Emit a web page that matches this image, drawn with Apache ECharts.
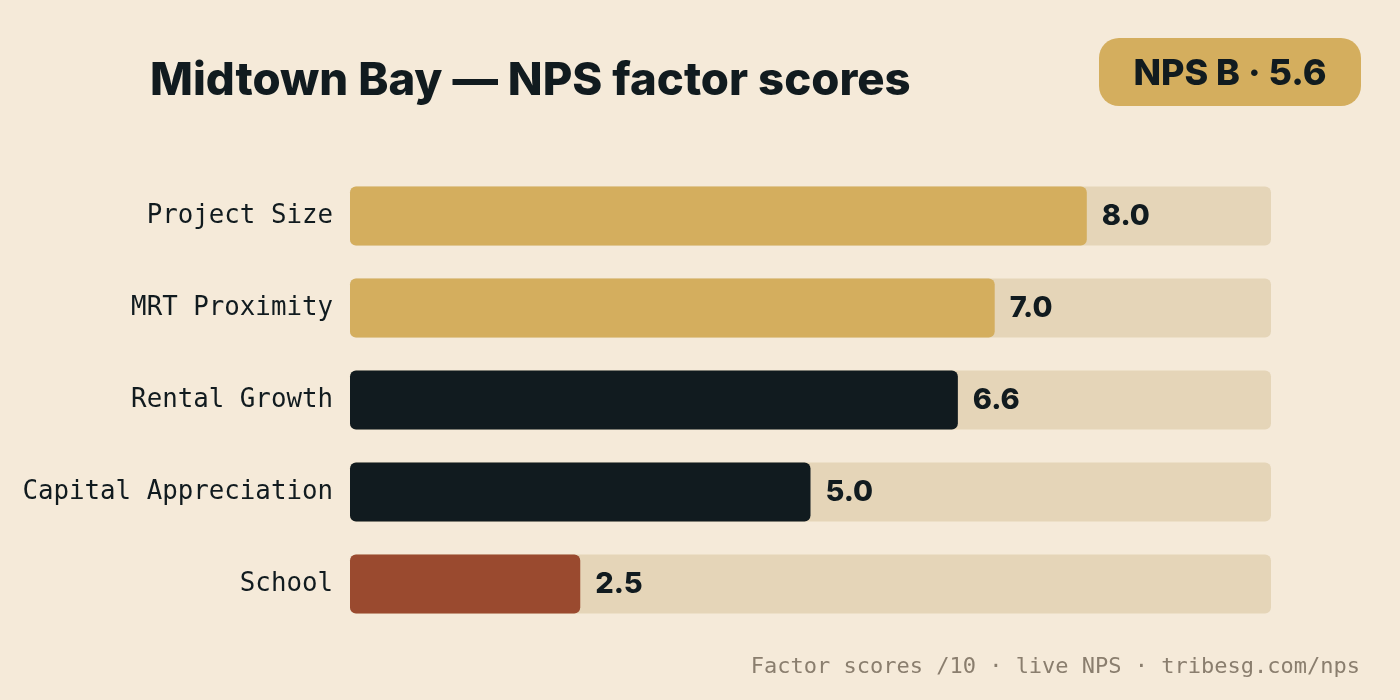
<!DOCTYPE html>
<html lang="en">
<head>
    <meta charset="UTF-8">
    <title>Midtown Bay NPS</title>
    <style>
        body {
            padding: 0;
            margin: 0;
            background-color: #f5ead9;
            overflow: hidden;
        }
        #main_chart {
            width: 1400px;
            height: 700px;
        }
    </style>
</head>
<body>
<div id="main_chart"></div>
<script type="text/javascript" src="https://cdn.jsdelivr.net/npm/echarts@6/dist/echarts.min.js"></script>
<script type="text/javascript">
var factors = ['Project Size', 'MRT Proximity', 'Rental Growth', 'Capital Appreciation', 'School'];
var scores = [8.0, 7.0, 6.6, 5.0, 2.5];
var maxScore = 10;
var npsBadge = 'NPS B \u00b7 5.6';

var barColor = function(v) {
    if (v >= 7) return '#d4ae5e';
    if (v >= 5) return '#111b1f';
    return '#9a4a2f';
};

var dom = document.getElementById('main_chart');
var chart = echarts.init(dom);

var option = {
    animation: false,
    backgroundColor: '#f5ead9',
    title: {
        text: 'Midtown Bay \u2014 NPS factor scores',
        left: 145,
        top: 53,
        textStyle: {
            fontFamily: 'Inter',
            fontWeight: 800,
            fontSize: 45.5,
            color: '#111b1f'
        }
    },
    grid: {
        left: 350,
        right: 129,
        top: 170,
        bottom: 70
    },
    xAxis: {
        type: 'value',
        min: 0,
        max: maxScore,
        show: false
    },
    yAxis: {
        type: 'category',
        data: factors,
        inverse: true,
        axisLine: { show: false },
        axisTick: { show: false },
        axisLabel: {
            margin: 17,
            fontFamily: 'DejaVu Sans Mono',
            fontSize: 25.8,
            color: '#111b1f'
        }
    },
    series: [
        {
            // track
            type: 'bar',
            data: factors.map(function() { return maxScore; }),
            barWidth: 59,
            barGap: '-100%',
            silent: true,
            itemStyle: { color: '#e5d5b8', borderRadius: 6 },
            z: 1
        },
        {
            type: 'bar',
            data: scores.map(function(v) {
                return { value: v, itemStyle: { color: barColor(v) } };
            }),
            barWidth: 59,
            itemStyle: { borderRadius: 6 },
            label: {
                show: true,
                position: 'right',
                distance: 15,
                formatter: function(p) { return p.value.toFixed(1); },
                fontFamily: 'Inter',
                fontWeight: 800,
                fontSize: 29,
                color: '#111b1f'
            },
            z: 2
        }
    ],
    graphic: [
        {
            type: 'rect',
            left: 1099,
            top: 38,
            shape: { width: 262, height: 68, r: 20 },
            style: { fill: '#d4ae5e' }
        },
        {
            type: 'text',
            x: 1230,
            y: 74,
            style: {
                text: npsBadge,
                align: 'center',
                verticalAlign: 'middle',
                fontFamily: 'Inter',
                fontWeight: 800,
                fontSize: 36,
                fill: '#111b1f'
            }
        },
        {
            type: 'text',
            x: 1360,
            y: 667,
            style: {
                text: 'Factor scores /10 \u00b7 live NPS \u00b7 tribesg.com/nps',
                align: 'right',
                verticalAlign: 'middle',
                fontFamily: 'DejaVu Sans Mono',
                fontSize: 22,
                fill: '#8a7e6e'
            }
        }
    ]
};

chart.setOption(option);
window.addEventListener('resize', chart.resize);
</script>
</body>
</html>
